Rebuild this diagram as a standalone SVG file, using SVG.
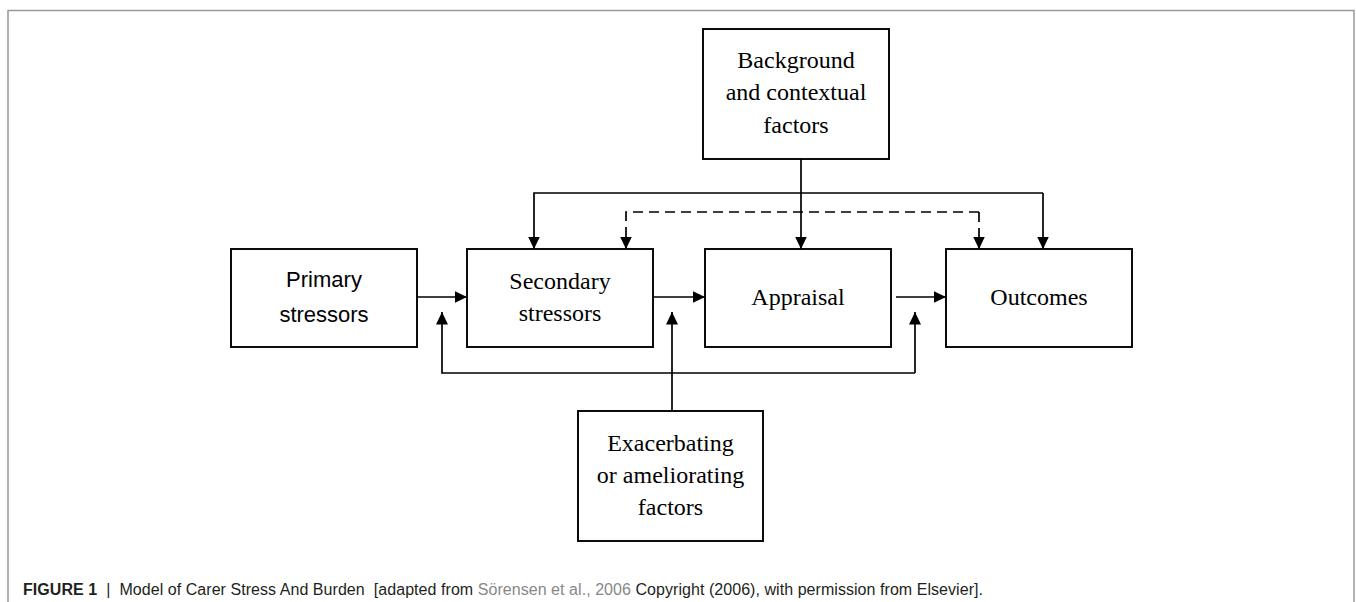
<svg xmlns="http://www.w3.org/2000/svg" width="1356" height="602" viewBox="0 0 1356 602">
<style>
.box{fill:#fff;stroke:#000;stroke-width:1.9}
.serif{font-family:"Liberation Serif","Times New Roman",serif;font-size:24px;fill:#000;text-anchor:middle}
.sans{font-family:"Liberation Sans",Arial,sans-serif;font-size:22px;fill:#000;text-anchor:middle}
.con{fill:none;stroke:#000;stroke-width:1.7}
.dash{stroke-dasharray:10 6}
.cap{font-family:"Liberation Sans",Arial,sans-serif;font-size:16px;fill:#231f20;white-space:pre}
</style>
<defs>
<marker id="arr" markerUnits="userSpaceOnUse" markerWidth="13" markerHeight="12" refX="12.5" refY="6" orient="auto">
<path d="M0,0 L12.5,6 L0,12 z" fill="#000"/>
</marker>
</defs>
<rect width="1356" height="602" fill="#fff"/>
<path d="M8,602 V10.5 H1354 V602" fill="none" stroke="#999" stroke-width="1.5"/>

<g id="connectors">
<line class="con" x1="417" y1="297" x2="467" y2="297" marker-end="url(#arr)"/>
<line class="con" x1="653" y1="297" x2="705" y2="297" marker-end="url(#arr)"/>
<line class="con" x1="896" y1="297" x2="946" y2="297" marker-end="url(#arr)"/>
<line class="con" x1="801" y1="159" x2="801" y2="249" marker-end="url(#arr)"/>
<path class="con" d="M1043,193 H534 V249" marker-end="url(#arr)"/>
<line class="con" x1="1043" y1="193" x2="1043" y2="249" marker-end="url(#arr)"/>
<path class="con dash" d="M979,212 H626 V249" marker-end="url(#arr)"/>
<line class="con dash" x1="979" y1="212" x2="979" y2="249" marker-end="url(#arr)"/>
<path class="con" d="M915,373 H442 V312" marker-end="url(#arr)"/>
<line class="con" x1="915" y1="373" x2="915" y2="312" marker-end="url(#arr)"/>
<line class="con" x1="672" y1="411" x2="672" y2="312" marker-end="url(#arr)"/>
</g>

<g id="background">
<rect class="box" x="703" y="29" width="186" height="130"/>
<text class="serif" x="796" y="68">Background</text>
<text class="serif" x="796" y="100">and contextual</text>
<text class="serif" x="796" y="133">factors</text>
</g>
<g id="primary">
<rect class="box" x="231" y="249" width="186" height="98"/>
<text class="sans" x="324" y="287">Primary</text>
<text class="sans" x="324" y="322">stressors</text>
</g>
<g id="secondary">
<rect class="box" x="467" y="249" width="186" height="98"/>
<text class="serif" x="560" y="289">Secondary</text>
<text class="serif" x="560" y="321">stressors</text>
</g>
<g id="appraisal">
<rect class="box" x="705" y="249" width="186" height="98"/>
<text class="serif" x="798" y="305">Appraisal</text>
</g>
<g id="outcomes">
<rect class="box" x="946" y="249" width="186" height="98"/>
<text class="serif" x="1039" y="305">Outcomes</text>
</g>
<g id="exacerbating">
<rect class="box" x="578" y="411" width="185" height="130"/>
<text class="serif" x="670.5" y="451">Exacerbating</text>
<text class="serif" x="670.5" y="483">or ameliorating</text>
<text class="serif" x="670.5" y="515">factors</text>
</g>

<g id="caption">
<text class="cap" x="23" y="595" textLength="960" lengthAdjust="spacing"><tspan font-weight="bold">FIGURE 1</tspan>  |  Model of Carer Stress And Burden  [adapted from <tspan fill="#888">Sörensen et al., 2006</tspan> Copyright (2006), with permission from Elsevier].</text>
</g>
</svg>
